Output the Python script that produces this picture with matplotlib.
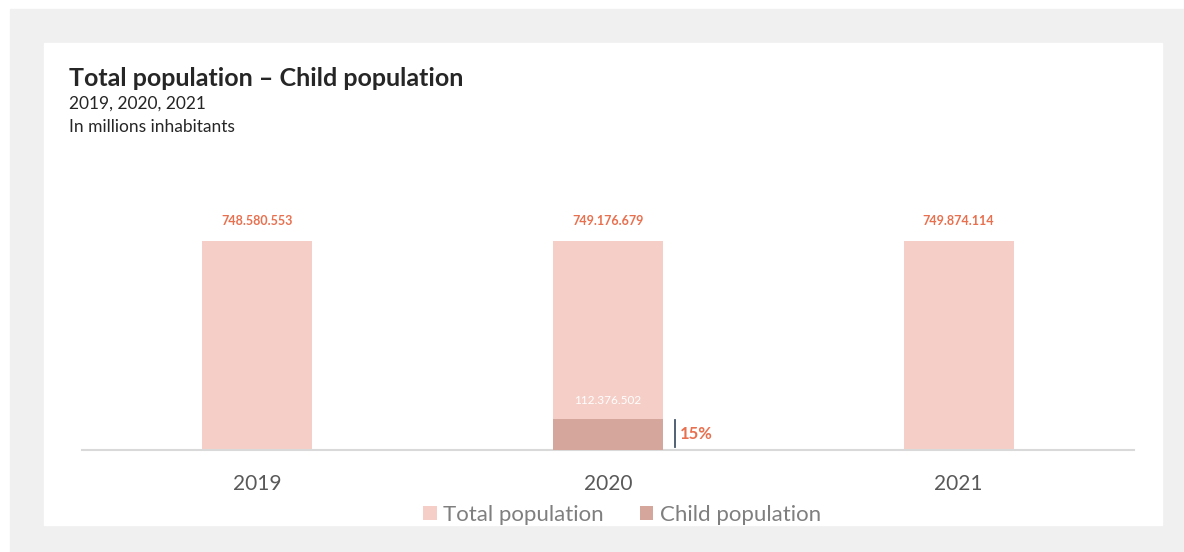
import matplotlib.pyplot as plt
from matplotlib.patches import Rectangle

years = ['2019', '2020', '2021']
total_pop = [748580553, 749176679, 749874114]
child_year = '2020'
child_pop = 112376502

total_col = '#f5cfc7'
child_col = '#d5a79c'
label_col = '#e8704f'

W, H = 1184, 552
plt.rcParams['font.family'] = ['Lato', 'DejaVu Sans']

fig = plt.figure(figsize=(W / 100, H / 100), dpi=100)
fig.patch.set_facecolor('white')

# grey frame and white card
fig.patches.append(Rectangle((10 / W, 0), 1 - 10 / W, 1 - 9 / H,
                             transform=fig.transFigure, color='#f0f0f0', zorder=-2))
fig.patches.append(Rectangle((44 / W, 1 - 525 / H), (1162 - 44) / W, (525 - 43) / H,
                             transform=fig.transFigure, color='white', zorder=-1))


def fmt(v):
    return f'{v:,}'.replace(',', '.')


ymax = 900e6
ax_bottom = 450
ax_top = ax_bottom - 209 / total_pop[0] * ymax
ax = fig.add_axes([82 / W, 1 - ax_bottom / H, (1134 - 82) / W, (ax_bottom - ax_top) / H])
ax.set_facecolor('none')

x = list(range(len(years)))
bw = 0.314
ax.bar(x, total_pop, width=bw, color=total_col, label='Total population', zorder=2)
ci = years.index(child_year)
ax.bar([ci], [child_pop], width=bw, color=child_col, label='Child population', zorder=3)

for xi, v in zip(x, total_pop):
    ax.annotate(fmt(v), (xi, v), xytext=(0, 10), textcoords='offset points',
                ha='center', va='bottom', fontsize=9, fontweight='bold', color=label_col)

ax.annotate(fmt(child_pop), (ci, child_pop), xytext=(0, 9), textcoords='offset points',
            ha='center', va='bottom', fontsize=8.5, color='white', zorder=4)

# share marker
share = child_pop / total_pop[ci]
ax.plot([ci + 0.191, ci + 0.191], [child_pop * 0.1, child_pop * 0.97], color='#44546a', lw=1.3, zorder=4)
ax.text(ci + 0.205, child_pop * 0.52, f'{share:.0%}', ha='left', va='center',
        fontsize=12, fontweight='bold', color=label_col)

ax.set_xlim(-0.5, 2.5)
ax.set_ylim(0, ymax)
ax.set_yticks([])
ax.set_xticks(x)
ax.set_xticklabels(years, fontsize=15, color='#595959')
ax.tick_params(axis='x', length=0, pad=17)
for s in ['top', 'left', 'right']:
    ax.spines[s].set_visible(False)
ax.spines['bottom'].set_color('#d9d9d9')
ax.spines['bottom'].set_linewidth(1.5)

leg = fig.legend(loc='center', bbox_to_anchor=(622 / W, 1 - 515 / H), ncol=2, frameon=False,
                 fontsize=16, handlelength=0.6, handleheight=0.6, handletextpad=0.3,
                 columnspacing=1.6, labelcolor='#7f7f7f')

fig.text(69 / W, 1 - 78 / H, 'Total population – Child population', fontsize=18,
         fontweight='bold', color='#262626', va='center', ha='left')
fig.text(69 / W, 1 - 104 / H, '2019, 2020, 2021', fontsize=12.5, color='#262626', va='center')
fig.text(69 / W, 1 - 127 / H, 'In millions inhabitants', fontsize=12.5, color='#262626', va='center')

fig.savefig('out.png', dpi=100)
